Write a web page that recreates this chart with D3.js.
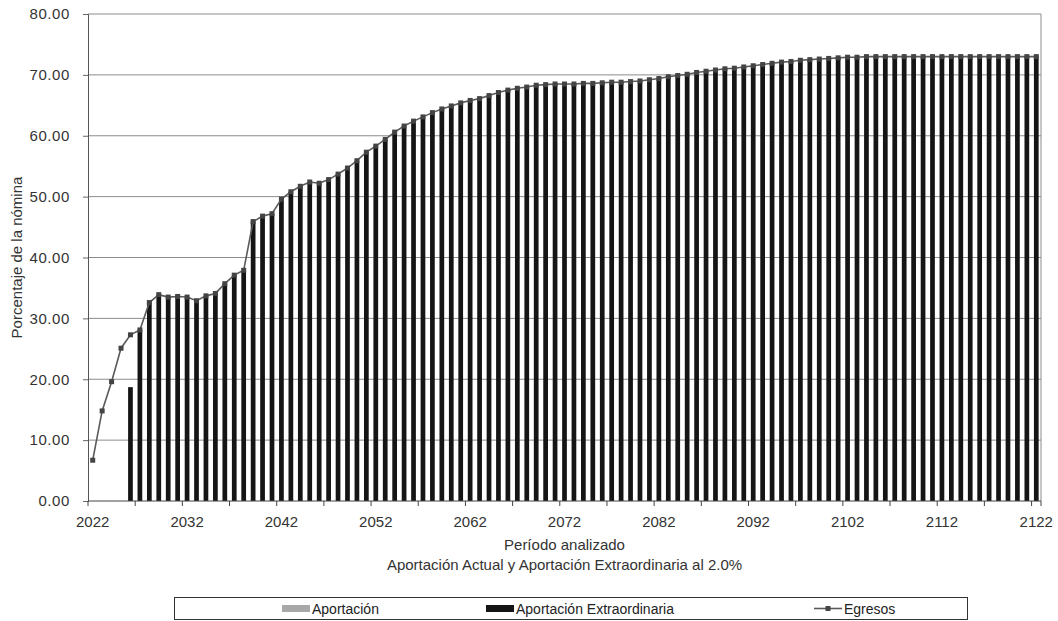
<!DOCTYPE html>
<html>
<head>
<meta charset="utf-8">
<script src="https://cdn.jsdelivr.net/npm/d3@7/dist/d3.min.js"></script>
<style>
  html, body { margin: 0; padding: 0; background: #fff; }
  svg { display: block; }
</style>
</head>
<body>
<svg id="chart" width="1058" height="621"></svg>
<script>
// ---------------- data ----------------
const years = d3.range(2022, 2123).map(String);

const xTickLabels = ["2022","2032","2042","2052","2062","2072","2082","2092","2102","2112","2122"];
const yTickValues = [0, 10, 20, 30, 40, 50, 60, 70, 80];

const egresos = [
  6.7, 14.8, 19.6, 25.1, 27.3, 28.1, 32.6, 33.9, 33.5, 33.6,
  33.5, 32.9, 33.7, 34.1, 35.7, 37.1, 37.9, 45.9, 46.8, 47.2,
  49.6, 50.8, 51.7, 52.4, 52.2, 52.8, 53.7, 54.7, 55.9, 57.3,
  58.3, 59.4, 60.6, 61.6, 62.4, 63.1, 63.8, 64.4, 64.9, 65.4,
  65.8, 66.1, 66.6, 67.1, 67.5, 67.8, 68.0, 68.3, 68.4, 68.5,
  68.5, 68.5, 68.6, 68.6, 68.7, 68.8, 68.8, 68.9, 69.0, 69.2,
  69.4, 69.7, 69.9, 70.1, 70.4, 70.6, 70.8, 71.0, 71.1, 71.3,
  71.5, 71.7, 71.9, 72.1, 72.2, 72.4, 72.5, 72.6, 72.7, 72.8,
  72.9, 72.9, 73.0, 73.0, 73.0, 73.0, 73.0, 73.0, 73.0, 73.0,
  73.0, 73.0, 73.0, 73.0, 73.0, 73.0, 73.0, 73.0, 73.0, 73.0,
  73.0
];

const aportacionExtraordinaria = [
  0, 0, 0, 0, 18.7, 28.1, 32.6, 33.9, 33.5, 33.6,
  33.5, 32.9, 33.7, 34.1, 35.7, 37.1, 37.9, 45.9, 46.8, 47.2,
  49.6, 50.8, 51.7, 52.4, 52.2, 52.8, 53.7, 54.7, 55.9, 57.3,
  58.3, 59.4, 60.6, 61.6, 62.4, 63.1, 63.8, 64.4, 64.9, 65.4,
  65.8, 66.1, 66.6, 67.1, 67.5, 67.8, 68.0, 68.3, 68.4, 68.5,
  68.5, 68.5, 68.6, 68.6, 68.7, 68.8, 68.8, 68.9, 69.0, 69.2,
  69.4, 69.7, 69.9, 70.1, 70.4, 70.6, 70.8, 71.0, 71.1, 71.3,
  71.5, 71.7, 71.9, 72.1, 72.2, 72.4, 72.5, 72.6, 72.7, 72.8,
  72.9, 72.9, 73.0, 73.0, 73.0, 73.0, 73.0, 73.0, 73.0, 73.0,
  73.0, 73.0, 73.0, 73.0, 73.0, 73.0, 73.0, 73.0, 73.0, 73.0,
  73.0
];

// gray "Aportación" bars are not visible in the picture (zero height)
const aportacion = [
  0,0,0,0,0,0,0,0,0,0, 0,0,0,0,0,0,0,0,0,0,
  0,0,0,0,0,0,0,0,0,0, 0,0,0,0,0,0,0,0,0,0,
  0,0,0,0,0,0,0,0,0,0, 0,0,0,0,0,0,0,0,0,0,
  0,0,0,0,0,0,0,0,0,0, 0,0,0,0,0,0,0,0,0,0,
  0,0,0,0,0,0,0,0,0,0, 0,0,0,0,0,0,0,0,0,0,
  0
];

const seriesNames = ["Aportación", "Aportación Extraordinaria", "Egresos"];
const yTitle = "Porcentaje de la nómina";
const xTitle = "Período analizado";
const subTitle = "Aportación Actual y Aportación Extraordinaria al 2.0%";

// ---------------- chart ----------------
const svg = d3.select("#chart");
const pL = 88, pR = 1041, pT = 14, pB = 501;
const font = "'Liberation Sans', Arial, sans-serif";
const narrow = "'Liberation Sans Narrow', 'Arial Narrow', 'Liberation Sans', sans-serif";

const x = d3.scaleBand().domain(years).range([pL, pR])
  .paddingInner(0.5).paddingOuter(0.25);
const y = d3.scaleLinear().domain([0, 80]).range([pB, pT]);

// gridlines
svg.append("g").selectAll("line")
  .data(yTickValues.filter(v => v > 0))
  .join("line")
  .attr("x1", pL).attr("x2", pR)
  .attr("y1", d => y(d)).attr("y2", d => y(d))
  .attr("stroke", "#8c8c8c").attr("stroke-width", 1);

// right frame
svg.append("line")
  .attr("x1", pR).attr("x2", pR).attr("y1", y(80)).attr("y2", y(0))
  .attr("stroke", "#8c8c8c").attr("stroke-width", 1);

// stacked bars
const rows = years.map((yr, i) => ({ year: yr, a: aportacion[i], e: aportacionExtraordinaria[i] }));
const stack = d3.stack().keys(["a", "e"])(rows);
const barColors = { a: "#a8a8a8", e: "#151515" };
svg.append("g").selectAll("g")
  .data(stack)
  .join("g")
  .attr("fill", d => barColors[d.key])
  .selectAll("rect")
  .data(d => d)
  .join("rect")
  .attr("x", d => x(d.data.year))
  .attr("width", x.bandwidth())
  .attr("y", d => y(d[1]))
  .attr("height", d => Math.max(0, y(d[0]) - y(d[1])));

// Y axis
const yAxis = d3.axisLeft(y).tickValues(yTickValues)
  .tickFormat(d3.format(".2f")).tickSize(5).tickPadding(13);
const gy = svg.append("g").attr("transform", `translate(${pL},0)`).call(yAxis);
gy.select(".domain").attr("stroke", "#555");
gy.selectAll(".tick line").attr("stroke", "#666");
gy.selectAll(".tick text").attr("font-family", font).attr("font-size", 15)
  .attr("fill", "#333").attr("letter-spacing", 0.6);

// X axis: labels
const xAxis = d3.axisBottom(x).tickValues(xTickLabels).tickSize(0).tickPadding(15);
const gx = svg.append("g").attr("transform", `translate(0,${pB})`).call(xAxis);
gx.select(".domain").remove();
gx.selectAll(".tick text").attr("font-family", font).attr("font-size", 15).attr("fill", "#333");

// X axis line and boundary ticks every 5 categories
const gap = (x.step() - x.bandwidth()) / 2;
const boundaryIdx = d3.range(0, years.length + 1, 5).concat([years.length]);
const boundaryX = i => i < years.length ? x(years[i]) - gap : x(years[years.length - 1]) + x.bandwidth() + gap;
svg.append("line").attr("x1", pL).attr("x2", pR).attr("y1", pB).attr("y2", pB)
  .attr("stroke", "#444").attr("stroke-width", 1);
svg.append("g").selectAll("line")
  .data(boundaryIdx)
  .join("line")
  .attr("x1", d => boundaryX(d)).attr("x2", d => boundaryX(d))
  .attr("y1", pB).attr("y2", pB + 5)
  .attr("stroke", "#444");

// Egresos line
const line = d3.line()
  .x((d, i) => x(years[i]) + x.bandwidth() / 2)
  .y(d => y(d));
svg.append("path").datum(egresos)
  .attr("d", line).attr("fill", "none")
  .attr("stroke", "#5a5a5a").attr("stroke-width", 1.6);
svg.append("g").selectAll("rect")
  .data(egresos)
  .join("rect")
  .attr("x", (d, i) => x(years[i]) + x.bandwidth() / 2 - 2.5)
  .attr("y", d => y(d) - 2.5)
  .attr("width", 5).attr("height", 5)
  .attr("fill", "#444");

// titles
svg.append("text")
  .attr("transform", `translate(22,${(pT + pB) / 2}) rotate(-90)`)
  .attr("text-anchor", "middle").attr("font-family", font).attr("font-size", 15)
  .attr("fill", "#333").text(yTitle);
svg.append("text").attr("x", (pL + pR) / 2).attr("y", 550)
  .attr("text-anchor", "middle").attr("font-family", font).attr("font-size", 15)
  .attr("fill", "#333").text(xTitle);
svg.append("text").attr("x", (pL + pR) / 2).attr("y", 570)
  .attr("text-anchor", "middle").attr("font-family", font).attr("font-size", 15)
  .attr("fill", "#333").text(subTitle);

// legend
const lg = svg.append("g");
lg.append("rect").attr("x", 174.5).attr("y", 597.5).attr("width", 793).attr("height", 22)
  .attr("fill", "#fff").attr("stroke", "#333").attr("stroke-width", 1);
const legendItems = [
  { name: seriesNames[0], type: "bar", color: barColors.a, sx: 282, tx: 312 },
  { name: seriesNames[1], type: "bar", color: barColors.e, sx: 486, tx: 516 },
  { name: seriesNames[2], type: "line", color: "#444", sx: 814, tx: 844 }
];
legendItems.forEach(it => {
  if (it.type === "bar") {
    lg.append("rect").attr("x", it.sx).attr("y", 605).attr("width", 28).attr("height", 7)
      .attr("fill", it.color);
  } else {
    lg.append("line").attr("x1", it.sx).attr("x2", it.sx + 28).attr("y1", 608.5).attr("y2", 608.5)
      .attr("stroke", "#5a5a5a").attr("stroke-width", 1.6);
    lg.append("rect").attr("x", it.sx + 14 - 2.5).attr("y", 606).attr("width", 5).attr("height", 5)
      .attr("fill", it.color);
  }
  lg.append("text").attr("x", it.tx).attr("y", 613.5)
    .attr("font-family", narrow).attr("font-size", 14).attr("fill", "#222").text(it.name);
});
</script>
</body>
</html>
